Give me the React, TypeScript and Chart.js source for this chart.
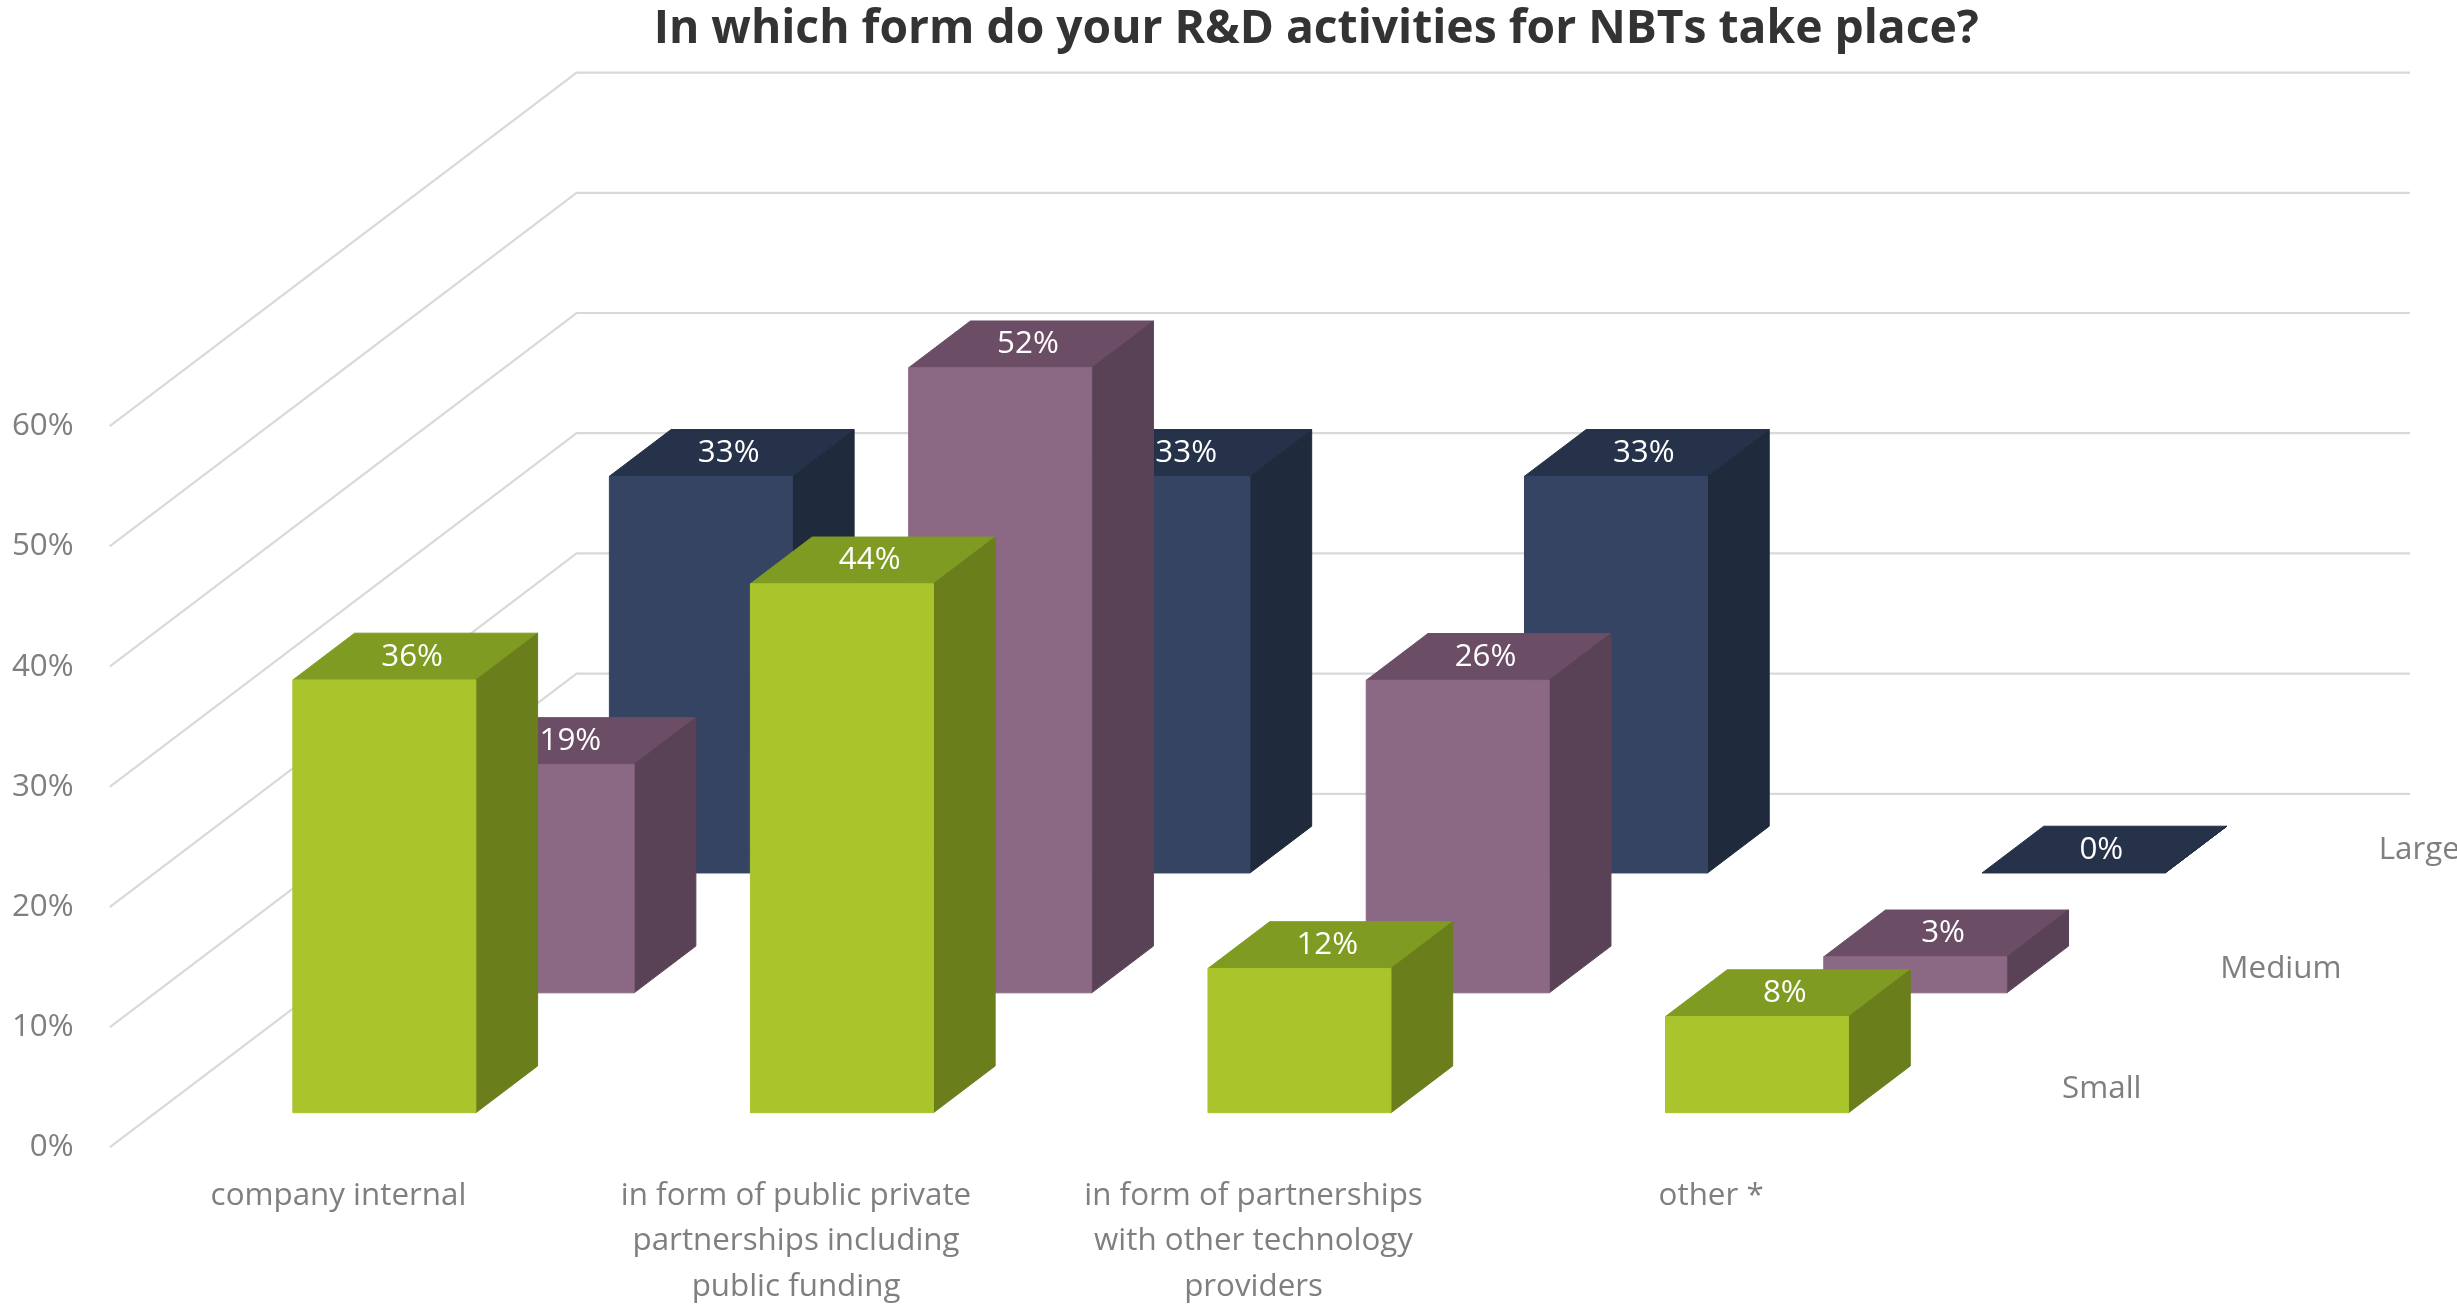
import { useEffect, useRef } from "react";
import { Chart, registerables } from "chart.js";

Chart.register(...registerables);

const chartTitle = "In which form do your R&D activities for NBTs take place?";
const categories = [
  ["company internal"],
  ["in form of public private", "partnerships including", "public funding"],
  ["in form of partnerships", "with other technology", "providers"],
  ["other *"],
];
const seriesNames = ["Small", "Medium", "Large"];
const smallValues = [36, 44, 12, 8];
const mediumValues = [19, 52, 26, 3];
const largeValues = [33, 33, 33, 0];
const yMax = 60;
const yStep = 10;

// layout was measured on a 1568 px wide copy, everything is scaled from it
const REF_W = 1568;
const FONT = '"Open Sans", "Noto Sans", sans-serif';
const GREY = "#7f7f7f";

// fake depth: one series row moves this far right / up
const ROW_DX = 101;
const ROW_DY = 76.5;
const ROW_Z = [0.29, 1.29, 2.29];
const BAR_DEPTH = 0.39;
const WALL_Z = 2.95;
const WALL_RIGHT = 1538;

// front, side, top
const faces = [
  { front: "#a9c52b", side: "#6a7f1b", top: "#809b21" },
  { front: "#8b6883", side: "#5a4256", top: "#6b4d65" },
  { front: "#354463", side: "#1f2a3d", top: "#26324a" },
];

function poly(ctx: CanvasRenderingContext2D, pts: number[][], color: string) {
  ctx.beginPath();
  ctx.moveTo(pts[0][0], pts[0][1]);
  for (let i = 1; i < pts.length; i++) ctx.lineTo(pts[i][0], pts[i][1]);
  ctx.closePath();
  ctx.fillStyle = color;
  ctx.strokeStyle = color;
  ctx.fill();
  // thin stroke in the same colour hides the anti-aliasing seams
  ctx.stroke();
}

const depthPlugin = {
  id: "depth",
  beforeDatasetsDraw(chart: any) {
    const { ctx, chartArea: a, scales } = chart;
    const u = chart.width / REF_W;
    const dx = ROW_DX * u;
    const dy = ROW_DY * u;
    ctx.save();
    ctx.strokeStyle = "#d9d9d9";
    ctx.lineWidth = 1.4 * u;
    for (const t of scales.y.ticks) {
      const py = scales.y.getPixelForValue(t.value);
      const by = py - WALL_Z * dy;
      ctx.beginPath();
      ctx.moveTo(a.left, py);
      ctx.lineTo(a.left + WALL_Z * dx, by);
      ctx.lineTo(WALL_RIGHT * u, by);
      ctx.stroke();
    }
    ctx.restore();
  },
  afterDatasetsDraw(chart: any) {
    const { ctx, chartArea: a, scales } = chart;
    const u = chart.width / REF_W;
    const dx = ROW_DX * u;
    const dy = ROW_DY * u;
    const bdx = BAR_DEPTH * dx;
    const bdy = BAR_DEPTH * dy;
    const base = scales.y.getPixelForValue(0);
    ctx.save();
    ctx.font = `${20 * u}px ${FONT}`;
    ctx.textBaseline = "middle";
    ctx.lineWidth = 1;
    ctx.lineJoin = "round";
    // back row first so the front rows cover it
    for (let s = chart.data.datasets.length - 1; s >= 0; s--) {
      const meta = chart.getDatasetMeta(s);
      const values = chart.data.datasets[s].data;
      const c = faces[s];
      const ox = ROW_Z[s] * dx;
      const oy = ROW_Z[s] * dy;
      meta.data.forEach((bar: any, i: number) => {
        const v = values[i];
        const x0 = bar.x - bar.width / 2 + ox;
        const x1 = bar.x + bar.width / 2 + ox;
        const yb = base - oy;
        const yt = scales.y.getPixelForValue(v) - oy;
        poly(ctx, [[x0, yt], [x1, yt], [x1 + bdx, yt - bdy], [x0 + bdx, yt - bdy]], c.top);
        poly(ctx, [[x1, yt], [x1 + bdx, yt - bdy], [x1 + bdx, yb - bdy], [x1, yb]], c.side);
        if (yb - yt > 0.5) poly(ctx, [[x0, yt], [x1, yt], [x1, yb], [x0, yb]], c.front);
        ctx.fillStyle = "#ffffff";
        ctx.textAlign = "center";
        ctx.fillText(`${v}%`, bar.x + ox + 0.45 * bdx, yt - bdy / 2);
      });
      const zc = ROW_Z[s] + BAR_DEPTH / 2;
      ctx.fillStyle = GREY;
      ctx.textAlign = "left";
      ctx.fillText(seriesNames[s], a.right + 29 * u + zc * dx, a.bottom - zc * dy);
    }
    ctx.restore();
  },
  afterDraw(chart: any) {
    const { ctx } = chart;
    const u = chart.width / REF_W;
    ctx.save();
    ctx.font = `bold ${29.5 * u}px ${FONT}`;
    ctx.fillStyle = "#333333";
    ctx.textAlign = "center";
    ctx.textBaseline = "middle";
    ctx.fillText(chartTitle, 840 * u, 19 * u);
    ctx.restore();
  },
};

export default function App() {
  const canvasRef = useRef<HTMLCanvasElement>(null);
  const chartRef = useRef<any>(null);

  useEffect(() => {
    if (chartRef.current) chartRef.current.destroy();
    const ctx = canvasRef.current?.getContext("2d");
    if (!ctx) return;

    const u = window.innerWidth / REF_W;
    const tickFont = { family: FONT, size: 20 * u, lineHeight: 1.45 };
    const rows = [smallValues, mediumValues, largeValues];

    chartRef.current = new Chart(ctx, {
      type: "bar",
      data: {
        labels: categories as any,
        datasets: rows.map((values, s) => ({
          label: seriesNames[s],
          data: values,
          backgroundColor: "rgba(0,0,0,0)",
          borderWidth: 0,
          grouped: false,
          categoryPercentage: 0.4,
          barPercentage: 1,
        })),
      },
      options: {
        responsive: true,
        maintainAspectRatio: false,
        animation: false,
        events: [],
        layout: { padding: { top: 272 * u, right: (REF_W - 1238) * u, bottom: 0, left: 0 } },
        plugins: {
          legend: { display: false },
          tooltip: { enabled: false },
          title: { display: false },
        },
        scales: {
          x: {
            offset: true,
            grid: { display: false, drawTicks: false },
            border: { display: false },
            ticks: {
              color: GREY,
              font: tickFont,
              padding: 16.5 * u,
              maxRotation: 0,
              autoSkip: false,
            },
            afterFit(scale: any) {
              scale.height = 105 * u;
            },
          },
          y: {
            min: 0,
            max: yMax,
            grid: { display: false, drawTicks: false },
            border: { display: false },
            ticks: {
              stepSize: yStep,
              color: GREY,
              font: tickFont,
              padding: 23 * u,
              callback: (v: any) => `${v}%`,
            },
            afterFit(scale: any) {
              scale.width = 70 * u;
            },
          },
        },
      } as any,
      plugins: [depthPlugin],
    });

    return () => {
      if (chartRef.current) {
        chartRef.current.destroy();
        chartRef.current = null;
      }
    };
  }, []);

  return (
    <div style={{ position: "fixed", left: 0, top: 0, width: "100vw", height: "100vh", background: "#fff" }}>
      <canvas ref={canvasRef} />
    </div>
  );
}
